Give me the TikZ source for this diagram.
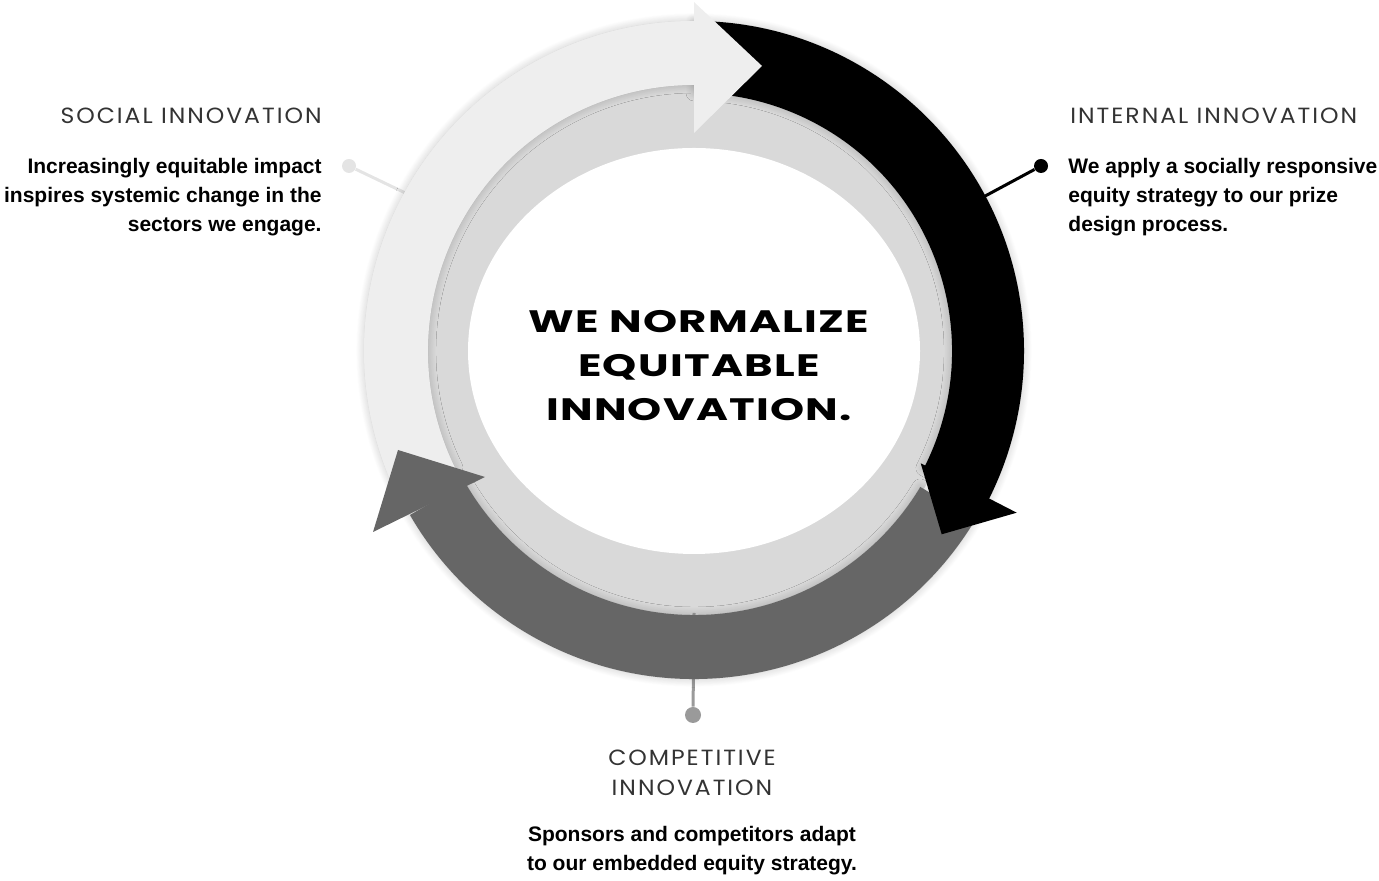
\documentclass[tikz,border=0pt]{standalone}
\usepackage{fontspec}
\setmainfont{Liberation Sans}
\newfontfamily\headfont{Poppins}[FakeStretch=1.07,LetterSpace=9]
\newfontfamily\widefont{Poppins}[FakeStretch=1.4,LetterSpace=4]
\usetikzlibrary{calc,shadows.blur}

\definecolor{ringpale}{HTML}{EEEEEE}
\definecolor{ringmid}{HTML}{D9D9D9}
\definecolor{ringdark}{HTML}{666666}
\definecolor{dotpale}{HTML}{E4E4E4}
\definecolor{dotgray}{HTML}{9A9A9A}

\begin{document}
\begin{tikzpicture}[x=0.5pt,y=0.5pt,
    heading/.style={font=\headfont\fontsize{11}{15}\selectfont, text=black!80, inner sep=0pt},
    body/.style={font=\bfseries\fontsize{10.5}{14.5}\selectfont, inner sep=0pt},
    dot/.style={circle, inner sep=0pt, minimum size=7pt},
    link/.style={line width=1.5pt},
    soft/.style={blur shadow={shadow xshift=0pt, shadow yshift=0pt, shadow blur radius=4pt, shadow blur steps=12, shadow opacity=22}}]
        \useasboundingbox (0,0) rectangle (1379,881);
        \coordinate (C) at (694,530);

        % disk behind the cycle
        \fill[ringmid] (C) circle[radius=268];
        \fill[white] (C) ellipse[x radius=226, y radius=203];

        % connectors
        \node[dot, fill=dotpale] (socdot) at (349,715) {};
        \node[dot, fill=black] (intdot) at (1041,715) {};
        \node[dot, fill=dotgray, minimum size=8pt] (comdot) at (693,166) {};
        \coordinate (socend) at ($(C)+(151:300)$);
        \coordinate (intend) at ($(C)+(28:300)$);
        \coordinate (comend) at ($(C)+(270:262)$);
        \draw[link, dotpale] (socdot) -- (socend);
        \draw[link, black] (intdot) -- (intend);
        \draw[link, dotgray] (comdot) -- (comend);

        % bands
        \fill[black, soft] ($(C)+(90:330)$) arc[start angle=90, end angle=-27, radius=330]
            -- ($(C)+(-27:258)$) arc[start angle=-27, end angle=90, radius=258] -- cycle;
        \fill[ringdark, soft] ($(C)+(-31:328)$) arc[start angle=-31, end angle=-150, radius=328]
            -- ($(C)+(-150:264)$) arc[start angle=-150, end angle=-31, radius=264] -- cycle;
        \fill[ringpale, soft] ($(C)+(90:330)$) arc[start angle=90, end angle=206, radius=330]
            -- ($(C)+(206:266)$) arc[start angle=206, end angle=90, radius=266] -- cycle;

        % arrow heads
        \fill[ringpale] (694,879) -- (762,815) -- (694,748) -- cycle;
        \fill[black] (920.7,417.7) -- (941.7,346.7) -- (1016.7,368.3) -- cycle;
        \fill[ringdark] (485,404) -- (398,431) -- (373,349) -- cycle;

        \node[font=\widefont\bfseries\fontsize{15.5}{22}\selectfont, align=center] (core) at (699,515) {WE NORMALIZE\\EQUITABLE\\INNOVATION.};

        \node[heading, anchor=east] (sochead) at (322,765) {SOCIAL INNOVATION};
        \node[body, anchor=east, align=right] (soctext) at (322,684) {Increasingly equitable impact\\inspires systemic change in the\\sectors we engage.};
        \node[heading, anchor=west] (inthead) at (1070,765) {INTERNAL INNOVATION};
        \node[body, anchor=west, align=left] (inttext) at (1068,684) {We apply a socially responsive\\equity strategy to our prize\\design process.};
        \node[heading, align=center] (comhead) at (692,108) {COMPETITIVE\\INNOVATION};
        \node[body, align=center] (comtext) at (692,30.5) {Sponsors and competitors adapt\\to our embedded equity strategy.};
\end{tikzpicture}
\end{document}
